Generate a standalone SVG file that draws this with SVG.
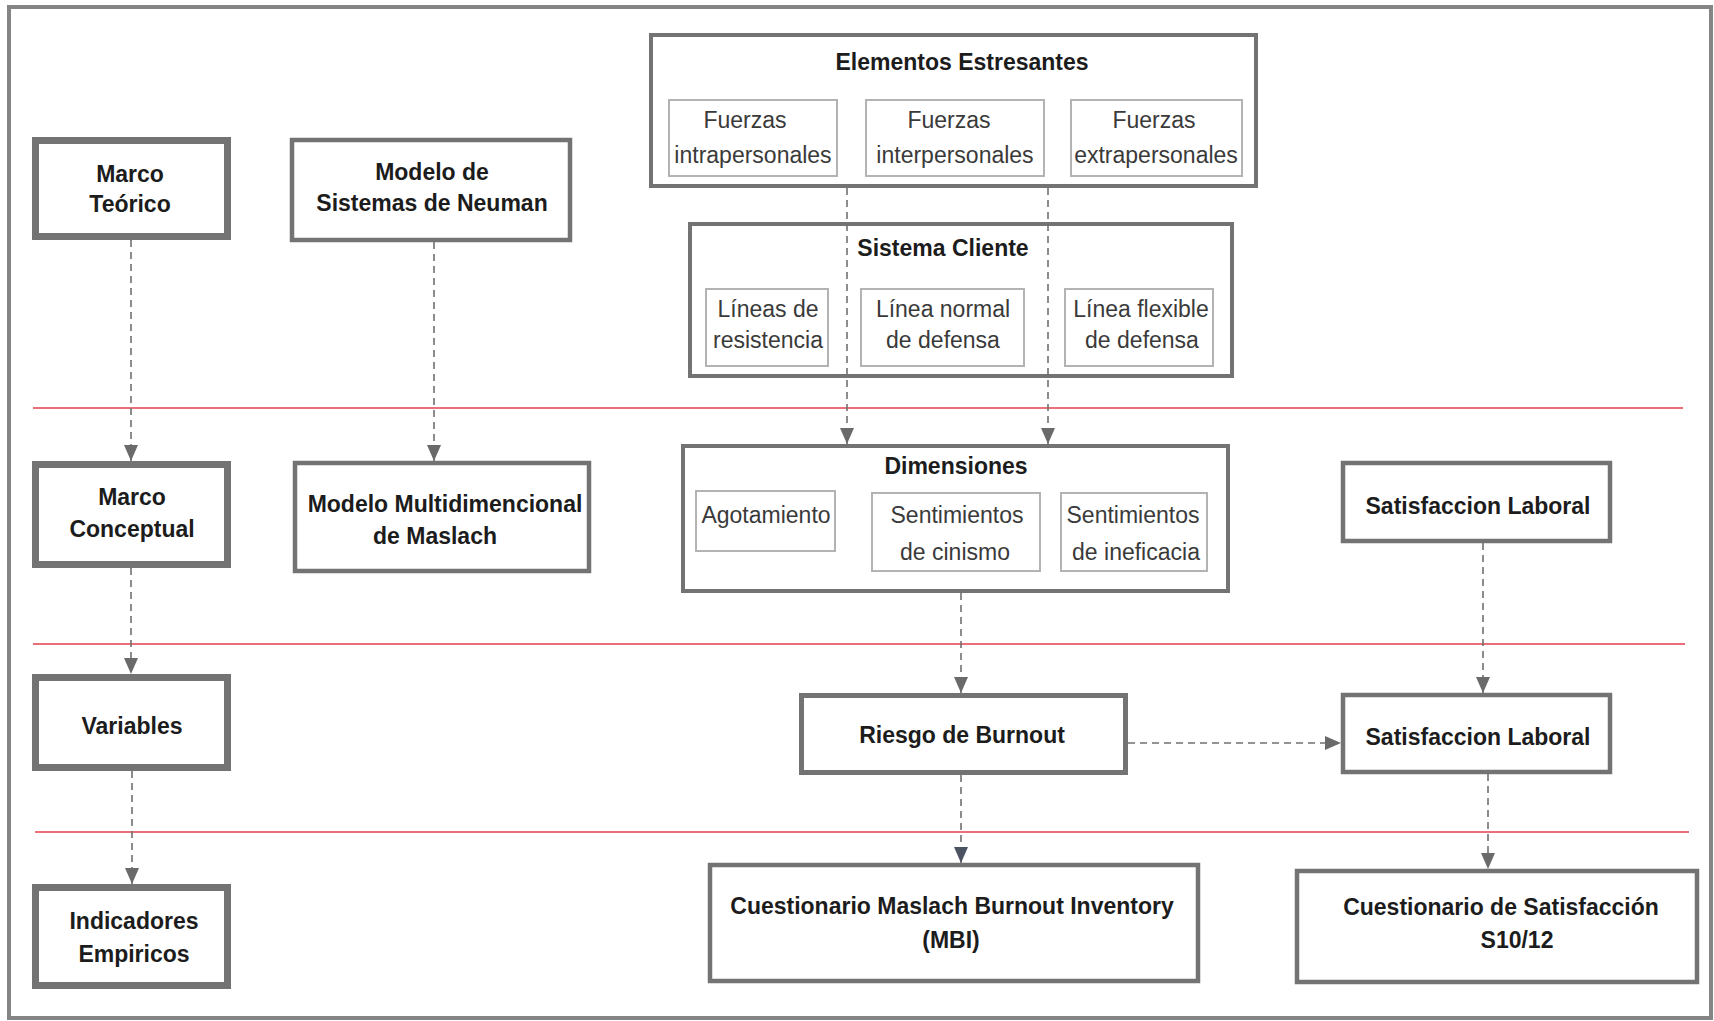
<svg xmlns="http://www.w3.org/2000/svg" width="1714" height="1021" viewBox="0 0 1714 1021">
<defs>
<marker id="arr" viewBox="0 0 16 14" refX="16" refY="7" markerWidth="16" markerHeight="14" orient="auto" markerUnits="userSpaceOnUse">
<path d="M0,0 L16,7 L0,14 z" fill="#6a6a6a"/>
</marker>
<marker id="arrD" viewBox="0 0 16 14" refX="16" refY="7" markerWidth="16" markerHeight="14" orient="auto" markerUnits="userSpaceOnUse">
<path d="M0,0 L16,7 L0,14 z" fill="#4b5363"/>
</marker>
<style>
.frame{fill:#fff;stroke:#858585;stroke-width:4}
.thick{fill:#fff;stroke:#737373;stroke-width:7}
.box{fill:#fff;stroke:#737373;stroke-width:4.5}
.inner{fill:#fff;stroke:#b3b3b3;stroke-width:2}
.red{stroke:#ea6f78;stroke-width:2;fill:none}
.dash{stroke:#707070;stroke-width:1.6;fill:none;stroke-dasharray:7 5;marker-end:url(#arr)}
.plain{stroke:#707070;stroke-width:1.6;fill:none;stroke-dasharray:7 5}
.b{font-family:"Liberation Sans",Arial,sans-serif;font-weight:bold;font-size:23px;fill:#1c1c1c;text-anchor:middle}
.r{font-family:"Liberation Sans",Arial,sans-serif;font-size:23px;fill:#3a3a3a;text-anchor:middle}
</style>
</defs>
<rect class="frame" x="9" y="7" width="1702" height="1011"/>

<g id="separators">
<line class="red" x1="33" y1="408" x2="1683" y2="408"/>
<line class="red" x1="33" y1="644" x2="1685" y2="644"/>
<line class="red" x1="35" y1="832" x2="1689" y2="832"/>
</g>

<g id="marco-teorico">
<rect class="thick" x="35.5" y="140.5" width="192" height="96"/>
<text class="b" x="130" y="182">Marco</text>
<text class="b" x="130" y="212">Teórico</text>
</g>
<g id="modelo-neuman">
<rect class="box" x="292" y="140" width="278" height="100"/>
<text class="b" x="432" y="180">Modelo de</text>
<text class="b" x="432" y="211">Sistemas de Neuman</text>
</g>
<g id="elementos-estresantes">
<rect class="box" x="651" y="35" width="605" height="151" style="stroke-width:4"/>
<text class="b" x="962" y="70">Elementos Estresantes</text>
<g id="fuerzas-intra">
<rect class="inner" x="669" y="100" width="168" height="76"/>
<text class="r" x="745" y="128">Fuerzas</text>
<text class="r" x="753" y="163">intrapersonales</text>
</g>
<g id="fuerzas-inter">
<rect class="inner" x="866" y="100" width="178" height="76"/>
<text class="r" x="949" y="128">Fuerzas</text>
<text class="r" x="955" y="163">interpersonales</text>
</g>
<g id="fuerzas-extra">
<rect class="inner" x="1071" y="100" width="171" height="76"/>
<text class="r" x="1154" y="128">Fuerzas</text>
<text class="r" x="1156" y="163">extrapersonales</text>
</g>
</g>
<g id="sistema-cliente">
<rect class="box" x="690" y="224" width="542" height="152" style="stroke-width:4"/>
<text class="b" x="943" y="256">Sistema Cliente</text>
<g id="lineas-resistencia">
<rect class="inner" x="706" y="289" width="122" height="77"/>
<text class="r" x="768" y="317">Líneas de</text>
<text class="r" x="768" y="348">resistencia</text>
</g>
<g id="linea-normal">
<rect class="inner" x="861" y="289" width="163" height="77"/>
<text class="r" x="943" y="317">Línea normal</text>
<text class="r" x="943" y="348">de defensa</text>
</g>
<g id="linea-flexible">
<rect class="inner" x="1065" y="289" width="148" height="77"/>
<text class="r" x="1141" y="317">Línea flexible</text>
<text class="r" x="1142" y="348">de defensa</text>
</g>
</g>

<g id="marco-conceptual">
<rect class="thick" x="35.5" y="464.5" width="192" height="100"/>
<text class="b" x="132" y="505">Marco</text>
<text class="b" x="132" y="537">Conceptual</text>
</g>
<g id="modelo-maslach">
<rect class="box" x="295" y="463" width="294" height="108"/>
<text class="b" x="445" y="512">Modelo Multidimencional</text>
<text class="b" x="435" y="544">de Maslach</text>
</g>
<g id="dimensiones">
<rect class="box" x="683" y="446" width="545" height="145" style="stroke-width:4"/>
<text class="b" x="956" y="474">Dimensiones</text>
<g id="agotamiento">
<rect class="inner" x="696" y="491" width="139" height="60"/>
<text class="r" x="766" y="523">Agotamiento</text>
</g>
<g id="cinismo">
<rect class="inner" x="872" y="493" width="168" height="78"/>
<text class="r" x="957" y="523">Sentimientos</text>
<text class="r" x="955" y="560">de cinismo</text>
</g>
<g id="ineficacia">
<rect class="inner" x="1061" y="493" width="146" height="78"/>
<text class="r" x="1133" y="523">Sentimientos</text>
<text class="r" x="1136" y="560">de ineficacia</text>
</g>
</g>
<g id="satisfaccion-1">
<rect class="box" x="1343" y="463" width="267" height="78"/>
<text class="b" x="1478" y="514">Satisfaccion Laboral</text>
</g>

<g id="variables">
<rect class="thick" x="35.5" y="677.5" width="192" height="90"/>
<text class="b" x="132" y="734">Variables</text>
</g>
<g id="riesgo-burnout">
<rect class="box" x="801.5" y="695.5" width="324" height="77" style="stroke-width:5"/>
<text class="b" x="962" y="743">Riesgo de Burnout</text>
</g>
<g id="satisfaccion-2">
<rect class="box" x="1343" y="695" width="267" height="77"/>
<text class="b" x="1478" y="745">Satisfaccion Laboral</text>
</g>

<g id="indicadores">
<rect class="thick" x="35.5" y="887.5" width="192" height="98"/>
<text class="b" x="134" y="929">Indicadores</text>
<text class="b" x="134" y="962">Empiricos</text>
</g>
<g id="mbi">
<rect class="box" x="710" y="865" width="488" height="116"/>
<text class="b" x="952" y="914">Cuestionario Maslach Burnout Inventory</text>
<text class="b" x="951" y="948">(MBI)</text>
</g>
<g id="cuestionario-satisfaccion">
<rect class="box" x="1297" y="871" width="400" height="111"/>
<text class="b" x="1501" y="915">Cuestionario de Satisfacción</text>
<text class="b" x="1517" y="948">S10/12</text>
</g>

<g id="connectors">
<line class="dash" x1="131" y1="240" x2="131" y2="461"/>
<line class="dash" x1="131" y1="568" x2="131" y2="674"/>
<line class="dash" x1="132" y1="771" x2="132" y2="884"/>
<line class="dash" x1="434" y1="242" x2="434" y2="461"/>
<line class="dash" x1="847" y1="188" x2="847" y2="444"/>
<line class="dash" x1="1048" y1="188" x2="1048" y2="444"/>
<line class="dash" x1="961" y1="593" x2="961" y2="693"/>
<line class="plain" x1="961" y1="775" x2="961" y2="863" style="marker-end:url(#arrD)"/>
<line class="dash" x1="1128" y1="743" x2="1341" y2="743"/>
<line class="dash" x1="1483" y1="543" x2="1483" y2="693"/>
<line class="dash" x1="1488" y1="774" x2="1488" y2="869"/>
</g>
</svg>
